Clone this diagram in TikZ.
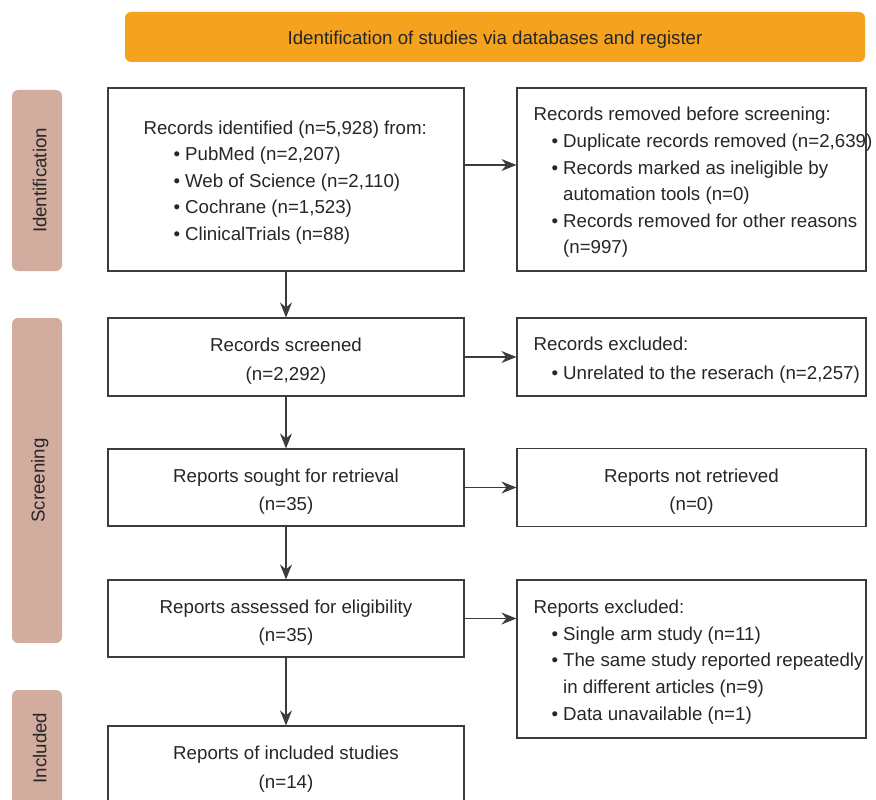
\documentclass[tikz,border=0pt]{standalone}
\usepackage{fontspec}
\setmainfont{Liberation Sans}
\usetikzlibrary{positioning,arrows.meta}
\definecolor{bannerorange}{HTML}{F5A31F}
\definecolor{stagepink}{HTML}{D2AD9F}
\definecolor{boxline}{HTML}{3C3C3C}
\definecolor{ink}{HTML}{262626}
\newcommand{\bul}[1][18pt]{\hspace*{#1}\textbullet\hspace{5pt}}
\newcommand{\cnt}[1][18pt]{\hspace*{#1}\phantom{\textbullet}\hspace{5pt}}
\newcommand{\lift}{\rule{0pt}{22pt}}
\begin{document}
\begin{tikzpicture}[x=1pt,y=-1pt,
  every node/.style={font=\fontsize{18.7}{26.6}\selectfont,text=ink,execute at begin node={\rule{0pt}{19pt}}},
  box/.style={draw=boxline,line width=1.2pt,minimum width=356pt,inner sep=0pt,align=center,font=\fontsize{18.7}{28.5}\selectfont},
  rbox/.style={draw=boxline,line width=1.2pt,minimum width=349pt,inner sep=0pt,align=center,font=\fontsize{18.7}{28.5}\selectfont},
  stage/.style={fill=stagepink,rounded corners=6pt,minimum height=50pt,inner sep=0pt,rotate=90},
  listtxt/.style={align=left,inner sep=0pt,anchor=west,yshift=-3pt},
  flow/.style={-{Stealth[length=15pt,width=12pt,inset=5pt]},line width=1.2pt,draw=boxline}]
\useasboundingbox (0,0) rectangle (876,800);
\clip (0,0) rectangle (876,800);
% header and phase bars
\node[fill=bannerorange,rounded corners=6pt,minimum width=740pt,minimum height=50pt] (banner) at (495,37) {Identification of studies via databases and register};
\node[stage,minimum width=181pt] (stident) at (37,180.5) {Identification};
\node[stage,minimum width=325pt] (stscreen) at (37,480.5) {Screening};
\node[stage,minimum width=116pt] (stincl) at (37,748) {Included};
% left column
\node[box,minimum height=183pt] (ident) at (286,179.5) {};
\node[listtxt,right=36pt of ident.west] (identtxt) {Records identified (n=5,928) from:\\
  \bul[30pt]PubMed (n=2,207)\\
  \bul[30pt]Web of Science (n=2,110)\\
  \bul[30pt]Cochrane (n=1,523)\\
  \bul[30pt]ClinicalTrials (n=88)};
\node[box,minimum height=78pt] (scr) at (286,357) {\lift Records screened\\(n=2,292)};
\node[box,minimum height=77pt] (sought) at (286,487.5) {\lift Reports sought for retrieval\\(n=35)};
\node[box,minimum height=77pt] (assess) at (286,618.5) {\lift Reports assessed for eligibility\\(n=35)};
\node[box,minimum height=78pt] (incl) at (286,765) {\lift Reports of included studies\\(n=14)};
% right column
\node[rbox,minimum height=183pt] (rem) at (691.5,179.5) {};
\node[listtxt,right=17pt of rem.west] (remtxt) {Records removed before screening:\\
  \bul Duplicate records removed (n=2,639)\\
  \bul Records marked as ineligible by\\
  \cnt automation tools (n=0)\\
  \bul Records removed for other reasons\\
  \cnt (n=997)};
\node[rbox,minimum height=78pt] (exc) at (691.5,357) {};
\node[listtxt,right=17pt of exc.west,font=\fontsize{18.7}{28.5}\selectfont] (exctxt) {Records excluded:\\
  \bul Unrelated to the reserach (n=2,257)};
\node[rbox,minimum height=78pt] (notret) at (691.5,487.5) {\lift Reports not retrieved\\(n=0)};
\node[rbox,minimum height=158pt] (repexc) at (691.5,659) {};
\node[listtxt,right=17pt of repexc.west] (repexctxt) {Reports excluded:\\
  \bul Single arm study (n=11)\\
  \bul The same study reported repeatedly\\
  \cnt in different articles (n=9)\\
  \bul Data unavailable (n=1)};
% connectors
\foreach \a/\b in {ident/scr,scr/sought,sought/assess,assess/incl}
  \draw[flow] (\a) -- (\b);
\draw[flow] ([yshift=14.5pt]ident.east) -- ([yshift=14.5pt]rem.west);
\foreach \a/\b in {scr/exc,sought/notret,assess/repexc}
  \draw[flow] (\a.east) -- (\a.east -| \b.west);
\end{tikzpicture}
\end{document}
